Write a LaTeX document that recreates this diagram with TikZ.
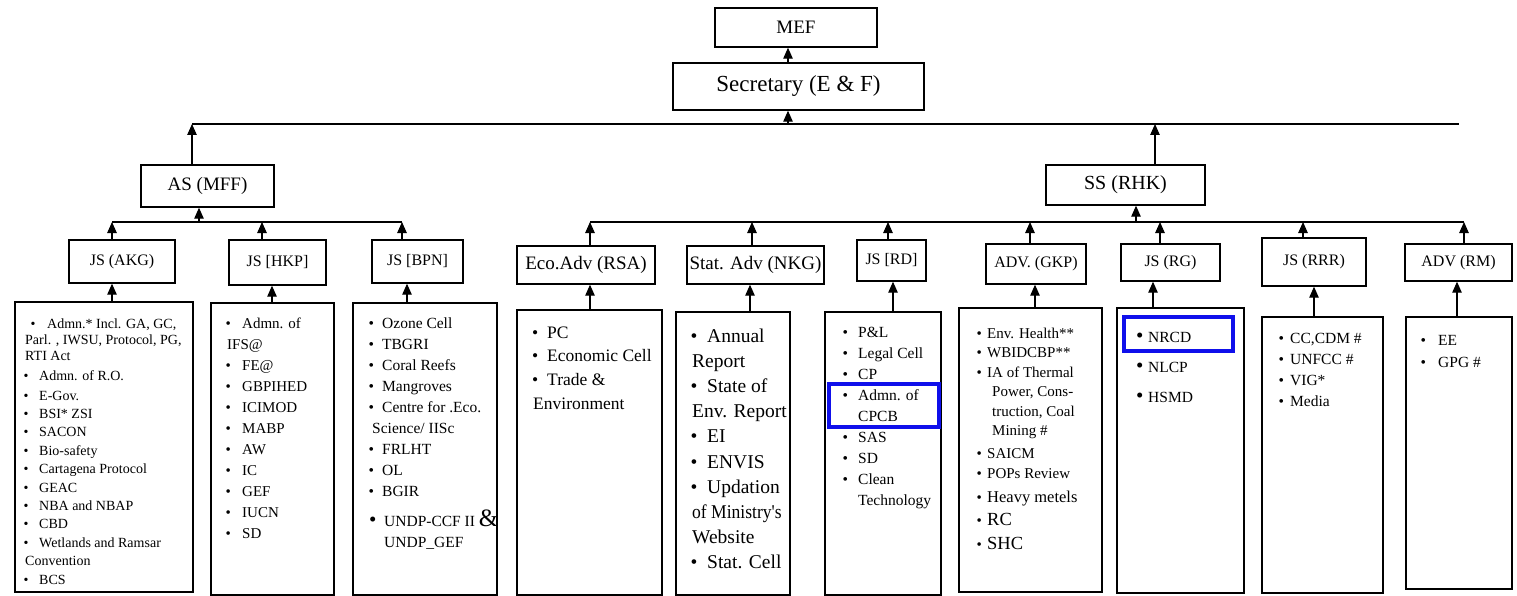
\documentclass[tikz,border=0pt]{standalone}
\usepackage{fontspec}
\setmainfont{Liberation Serif}
\usetikzlibrary{arrows.meta}
\definecolor{hlblue}{RGB}{15,15,235}
\newcommand\mybul[2]{\hspace*{#1pt}\makebox[#2pt][l]{\textbullet}}
\newcommand\mybigbul[2]{\hspace*{#1pt}\makebox[#2pt][l]{{\fontsize{21}{21}\selectfont\textbullet}}}
\newcommand\mycont[1]{\hspace*{#1pt}}
\newcommand\fs[2]{\fontsize{#1}{#2}\selectfont}
\begin{document}
\begin{tikzpicture}[x=1pt,y=-1pt,
  box/.style={draw=black, line width=1.4pt, inner sep=0pt},
  lbl/.style={inner sep=0pt, anchor=base west},
  arr/.style={line width=1.1pt, -{Triangle[length=11pt,width=9.5pt]}},
  bus/.style={line width=1.5pt},
  hl/.style={draw=hlblue, line width=4pt, inner sep=0pt}]
\useasboundingbox (0,0) rectangle (1517,596);

% top level
\node[box, minimum width=162pt, minimum height=39pt, font=\fs{19}{22}] (mef) at (796,27.5) {MEF};
\node[box, minimum width=251pt, minimum height=47pt, font=\fs{23}{26}] (sec) at (798.5,86.5) {Secretary (E \& F)};
\node[box, minimum width=133pt, minimum height=42pt, font=\fs{19}{22}] (as) at (207.5,186) {AS (MFF)};
\node[box, minimum width=159pt, minimum height=40pt, font=\fs{20}{23}] (ss) at (1125.5,185) {SS (RHK)};

% third level
\node[box, minimum width=106pt, minimum height=43pt, font=\fs{16}{19}] (jsA) at (122,261.5) {JS (AKG)};
\node[box, minimum width=97pt, minimum height=45pt, font=\fs{16}{19}] (jsH) at (277.5,262.5) {JS [HKP]};
\node[box, minimum width=91pt, minimum height=43pt, font=\fs{16}{19}] (jsB) at (417.5,261.5) {JS [BPN]};
\node[box, minimum width=138pt, minimum height=38pt, font=\fs{19}{22}] (eco) at (586,265) {Eco.Adv (RSA)};
\node[box, minimum width=137pt, minimum height=38pt, font=\fs{19}{22}] (stat) at (755.5,265) {Stat. Adv (NKG)};
\node[box, minimum width=69pt, minimum height=41pt, font=\fs{16}{19}] (jsD) at (891.5,260.5) {JS [RD]};
\node[box, minimum width=100pt, minimum height=40pt, font=\fs{16}{19}] (gkp) at (1036,264) {ADV. (GKP)};
\node[box, minimum width=99pt, minimum height=37pt, font=\fs{16}{19}] (jsG) at (1170.5,262.5) {JS (RG)};
\node[box, minimum width=104pt, minimum height=48pt, font=\fs{16}{19}] (jsR) at (1314,262) {JS (RRR)};
\node[box, minimum width=107pt, minimum height=37pt, font=\fs{16}{19}] (rm) at (1458.5,262.5) {ADV (RM)};

% bottom boxes
\node[box, minimum width=178pt, minimum height=290pt] (p1) at (104,447) {};
\node[box, minimum width=123pt, minimum height=292pt] (p2) at (272.5,449) {};
\node[box, minimum width=144pt, minimum height=292pt] (p3) at (425,449) {};
\node[box, minimum width=145pt, minimum height=285pt] (p4) at (589.5,452.5) {};
\node[box, minimum width=114pt, minimum height=283pt] (p5) at (733,453.5) {};
\node[box, minimum width=116pt, minimum height=283pt] (p6) at (883,453.5) {};
\node[box, minimum width=143pt, minimum height=284pt] (p7) at (1030.5,450) {};
\node[box, minimum width=127pt, minimum height=285pt] (p8) at (1180.5,450.5) {};
\node[box, minimum width=121pt, minimum height=276pt] (p9) at (1322.5,455) {};
\node[box, minimum width=106pt, minimum height=272pt] (p10) at (1459,453) {};

% texts of bottom boxes
\node[lbl] (t1) at (15,328) {\parbox[t]{300pt}{\fs{14}{18.4}%
\mybul{15.5}{16.5}Admn.* Incl. GA, GC,\\[-2.4pt]
\mycont{10}Parl. , IWSU, Protocol, PG,\\[-2.4pt]
\mycont{10}RTI Act\\[1.6pt]
\mybul{8.5}{15.5}Admn. of R.O.\\[1.6pt]
\mybul{8.5}{15.5}E-Gov.\\
\mybul{8.5}{15.5}BSI* ZSI\\
\mybul{8.5}{15.5}SACON\\
\mybul{8.5}{15.5}Bio-safety\\
\mybul{8.5}{15.5}Cartagena Protocol\\
\mybul{8.5}{15.5}GEAC\\
\mybul{8.5}{15.5}NBA and NBAP\\
\mybul{8.5}{15.5}CBD\\
\mybul{8.5}{15.5}Wetlands and Ramsar\\
\mycont{10}Convention\\
\mybul{8.5}{15.5}BCS}};

\node[lbl] (t2) at (211,328) {\parbox[t]{300pt}{\fs{15}{21}%
\mybul{14.5}{16.5}Admn. of\\
\mycont{16}IFS@\\
\mybul{14.5}{16.5}FE@\\
\mybul{14.5}{16.5}GBPIHED\\
\mybul{14.5}{16.5}ICIMOD\\
\mybul{14.5}{16.5}MABP\\
\mybul{14.5}{16.5}AW\\
\mybul{14.5}{16.5}IC\\
\mybul{14.5}{16.5}GEF\\
\mybul{14.5}{16.5}IUCN\\
\mybul{14.5}{16.5}SD}};

\node[lbl] (t3) at (353,328.5) {\parbox[t]{300pt}{\fs{15.5}{21}%
\mybul{15.5}{13.5}Ozone Cell\\
\mybul{15.5}{13.5}TBGRI\\
\mybul{15.5}{13.5}Coral Reefs\\
\mybul{15.5}{13.5}Mangroves\\
\mybul{15.5}{13.5}Centre for .Eco.\\
\mycont{19}Science/ IISc\\
\mybul{15.5}{13.5}FRLHT\\
\mybul{15.5}{13.5}OL\\
\mybul{15.5}{13.5}BGIR\\[9pt]
\mybigbul{16}{15}UNDP-CCF II {\fs{25}{25}\&}\\
\mycont{31}UNDP\_GEF}};

\node[lbl] (t4) at (517,338) {\parbox[t]{300pt}{\fs{17.5}{23.6}%
\mybul{15}{15}PC\\
\mybul{15}{15}Economic Cell\\
\mybul{15}{15}Trade \&\\[1pt]
\mycont{16}Environment}};

\node[lbl] (t5) at (676,342) {\parbox[t]{300pt}{\fs{19.5}{25.2}%
\mybul{14.5}{16.5}Annual\\
\mycont{16}Report\\
\mybul{14.5}{16.5}State of\\
\mycont{16}Env. Report\\
\mybul{14.5}{16.5}EI\\
\mybul{14.5}{16.5}ENVIS\\
\mybul{14.5}{16.5}Updation\\
\mycont{16}\scalebox{0.9}[1]{of Ministry\textquotesingle s}\\
\mycont{16}Website\\
\mybul{14.5}{16.5}Stat. Cell}};

\node[lbl] (t6) at (825,337.5) {\parbox[t]{300pt}{\fs{15.5}{21}%
\mybul{17.5}{15.5}P\&L\\
\mybul{17.5}{15.5}Legal Cell\\
\mybul{17.5}{15.5}CP\\
\mybul{17.5}{15.5}Admn. of\\
\mycont{33}CPCB\\
\mybul{17.5}{15.5}SAS\\
\mybul{17.5}{15.5}SD\\
\mybul{17.5}{15.5}Clean\\
\mycont{33}Technology}};

\node[lbl] (t7) at (959,338) {\parbox[t]{300pt}{\fs{15}{19.5}%
\mybul{17.5}{10.5}Env. Health**\\
\mybul{17.5}{10.5}WBIDCBP**\\
\mybul{17.5}{10.5}IA of Thermal\\
\mycont{33}Power, Cons-\\
\mycont{33}truction, Coal\\
\mycont{33}Mining \#\\[3.5pt]
\mybul{17.5}{10.5}SAICM\\[0.5pt]
\mybul{17.5}{10.5}POPs Review\\[4.5pt]
\mybul{17.5}{10.5}{\fs{16.5}{19.5}Heavy metels}\\[3.5pt]
\mybul{17.5}{10.5}{\fs{18.5}{19.5}RC}\\[4.5pt]
\mybul{17.5}{10.5}{\fs{18.5}{19.5}SHC}}};

\node[lbl] (t8) at (1117,342) {\parbox[t]{300pt}{\fs{15.5}{30}%
\mybigbul{19}{12}NRCD\\
\mybigbul{19}{12}NLCP\\
\mybigbul{19}{12}HSMD}};

\node[lbl] (t9) at (1262,343) {\parbox[t]{300pt}{\fs{15.5}{21.3}%
\mybul{16.5}{11.5}CC,CDM \#\\
\mybul{16.5}{11.5}UNFCC \#\\
\mybul{16.5}{11.5}VIG*\\
\mybul{16.5}{11.5}Media}};

\node[lbl] (t10) at (1406,345) {\parbox[t]{300pt}{\fs{15.5}{22}%
\mybul{14.5}{17.5}EE\\
\mybul{14.5}{17.5}GPG \#}};

% blue highlights
\node[hl, minimum width=110pt, minimum height=43pt] (h1) at (884,405.5) {};
\node[hl, minimum width=109pt, minimum height=34pt] (h2) at (1178.5,334) {};

% connector x positions
\coordinate (cT) at (788,0);
\coordinate (tbL) at (192,124);
\coordinate (tbR) at (1459,124);
\coordinate (ssx) at (1155,0);
\coordinate (abL) at (112,222);
\coordinate (abR) at (402,222);
\coordinate (asx) at (199,0);
\coordinate (hx) at (262,0);
\coordinate (rbL) at (590,222);
\coordinate (rbR) at (1464,222);
\coordinate (ssy) at (1136,0);
\coordinate (xs) at (752,0);
\coordinate (xd) at (888,0);
\coordinate (xg) at (1030,0);
\coordinate (xr) at (1160,0);
\coordinate (xq) at (1303,0);
\coordinate (u2) at (272,0);
\coordinate (u3) at (407,0);
\coordinate (u5) at (750,0);
\coordinate (u6) at (893,0);
\coordinate (u7) at (1035,0);
\coordinate (u8) at (1153,0);
\coordinate (u9) at (1314,0);
\coordinate (u10) at (1457,0);

% top
\draw[arr] (sec.north -| cT) -- (mef.south -| cT);
\draw[bus] (tbL) -- (tbR);
\draw[arr] (tbL -| cT) -- (sec.south -| cT);
\draw[arr] (as.north -| tbL) -- (tbL);
\draw[arr] (ss.north -| ssx) -- (tbR -| ssx);

% AS bus
\draw[bus] (abL) -- (abR);
\draw[arr] (abL -| asx) -- (as.south -| asx);
\draw[arr] (jsA.north -| abL) -- (abL);
\draw[arr] (jsH.north -| hx) -- (abL -| hx);
\draw[arr] (jsB.north -| abR) -- (abR);

% SS bus
\draw[bus] (rbL) -- (rbR);
\draw[arr] (rbL -| ssy) -- (ss.south -| ssy);
\draw[arr] (eco.north -| rbL) -- (rbL);
\draw[arr] (stat.north -| xs) -- (rbL -| xs);
\draw[arr] (jsD.north -| xd) -- (rbL -| xd);
\draw[arr] (gkp.north -| xg) -- (rbL -| xg);
\draw[arr] (jsG.north -| xr) -- (rbL -| xr);
\draw[arr] (jsR.north -| xq) -- (rbL -| xq);
\draw[arr] (rm.north -| rbR) -- (rbR);

% bottom boxes to their heads
\draw[arr] (p1.north -| abL) -- (jsA.south -| abL);
\draw[arr] (p2.north -| u2) -- (jsH.south -| u2);
\draw[arr] (p3.north -| u3) -- (jsB.south -| u3);
\draw[arr] (p4.north -| rbL) -- (eco.south -| rbL);
\draw[arr] (p5.north -| u5) -- (stat.south -| u5);
\draw[arr] (p6.north -| u6) -- (jsD.south -| u6);
\draw[arr] (p7.north -| u7) -- (gkp.south -| u7);
\draw[arr] (p8.north -| u8) -- (jsG.south -| u8);
\draw[arr] (p9.north -| u9) -- (jsR.south -| u9);
\draw[arr] (p10.north -| u10) -- (rm.south -| u10);
\end{tikzpicture}
\end{document}
